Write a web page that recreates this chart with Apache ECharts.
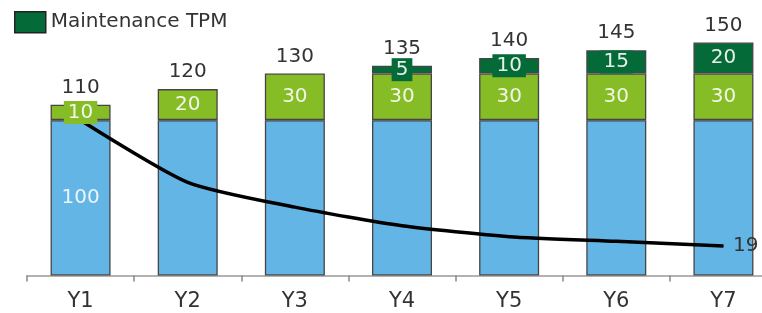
<!DOCTYPE html>
<html>
<head>
<meta charset="utf-8">
<script src="https://cdn.jsdelivr.net/npm/echarts@6/dist/echarts.min.js"></script>
<style>
html,body{margin:0;padding:0;background:#fff;}
#chart{width:762px;height:313px;}
</style>
</head>
<body>
<div id="chart"></div>
<script>
var categories = ['Y1','Y2','Y3','Y4','Y5','Y6','Y7'];
var baseValues = [100,100,100,100,100,100,100];
var upgradeValues = [10,20,30,30,30,30,30];
var maintenanceValues = [0,0,0,5,10,15,20];
var lineValues = [100,60,44,32,25,22,19];

var FONT = '"DejaVu Sans", Verdana, sans-serif';
var totals = categories.map(function(c,i){ return baseValues[i]+upgradeValues[i]+maintenanceValues[i]; });

var chart = echarts.init(document.getElementById('chart'));
var border = {borderColor:'#454545', borderWidth:1.3};

function segLabel(color, bg){
  return {show:true, position:'inside', color:color, fontFamily:FONT, fontSize:20,
    backgroundColor:bg, padding:[2,4,1,4]};
}

chart.setOption({
  animation:false,
  legend:{
    data:['Maintenance TPM'], left:14, top:11, padding:0, itemWidth:31, itemHeight:21, itemGap:6,
    icon:'rect',
    itemStyle:{borderColor:'#222', borderWidth:1.5},
    textStyle:{fontFamily:FONT, fontSize:20, color:'#333'}
  },
  grid:{left:27, width:750, top:42.5, bottom:37.5, containLabel:false, outerBoundsMode:'none'},
  xAxis:{
    type:'category', data:categories,
    axisLine:{lineStyle:{color:'#999', width:1.5}},
    axisTick:{show:true, length:6, lineStyle:{color:'#888', width:1.5}},
    axisLabel:{fontFamily:FONT, fontSize:21, color:'#333', margin:16}
  },
  yAxis:{type:'value', min:0, max:150, show:false, splitLine:{show:false}},
  series:[
    {name:'Base', type:'bar', stack:'s', barWidth:60, z:2,
     data:baseValues.map(function(v,i){ return i===0 ? {value:v, label:{show:true}} : v; }),
     itemStyle:Object.assign({color:'#62B5E5'}, border),
     label:{show:false, position:'inside', color:'#eaf4fb', fontFamily:FONT, fontSize:20}},
    {name:'Upgrade', type:'bar', stack:'s', z:4,
     data:upgradeValues,
     itemStyle:Object.assign({color:'#86BC25'}, border),
     label:segLabel('#f2f6e6','#86BC25')},
    {name:'Maintenance TPM', type:'bar', stack:'s', z:4,
     data:maintenanceValues.map(function(v){ return v===0 ? {value:0, label:{show:false}, itemStyle:{borderWidth:0}} : v; }),
     itemStyle:Object.assign({color:'#046A38'}, border),
     label:segLabel('#e6efe9','#046A38')},
    {name:'Total', type:'bar', stack:'s', z:4,
     data:totals.map(function(){ return 0; }),
     itemStyle:{color:'transparent', borderWidth:0},
     label:{show:true, position:'top', distance:7, color:'#333', fontFamily:FONT, fontSize:20,
       formatter:function(p){ return totals[p.dataIndex]; }}},
    {name:'Trend', type:'line', z:3, smooth:0.22, symbol:'circle', symbolSize:1, showSymbol:true,
     itemStyle:{color:'#000'},
     data:lineValues.map(function(v,i){ return i===lineValues.length-1 ? {value:v, label:{show:true}} : v; }),
     lineStyle:{color:'#000', width:3.5},
     label:{show:false, position:'right', distance:9, color:'#333', fontFamily:FONT, fontSize:20}}
  ]
});
</script>
</body>
</html>
